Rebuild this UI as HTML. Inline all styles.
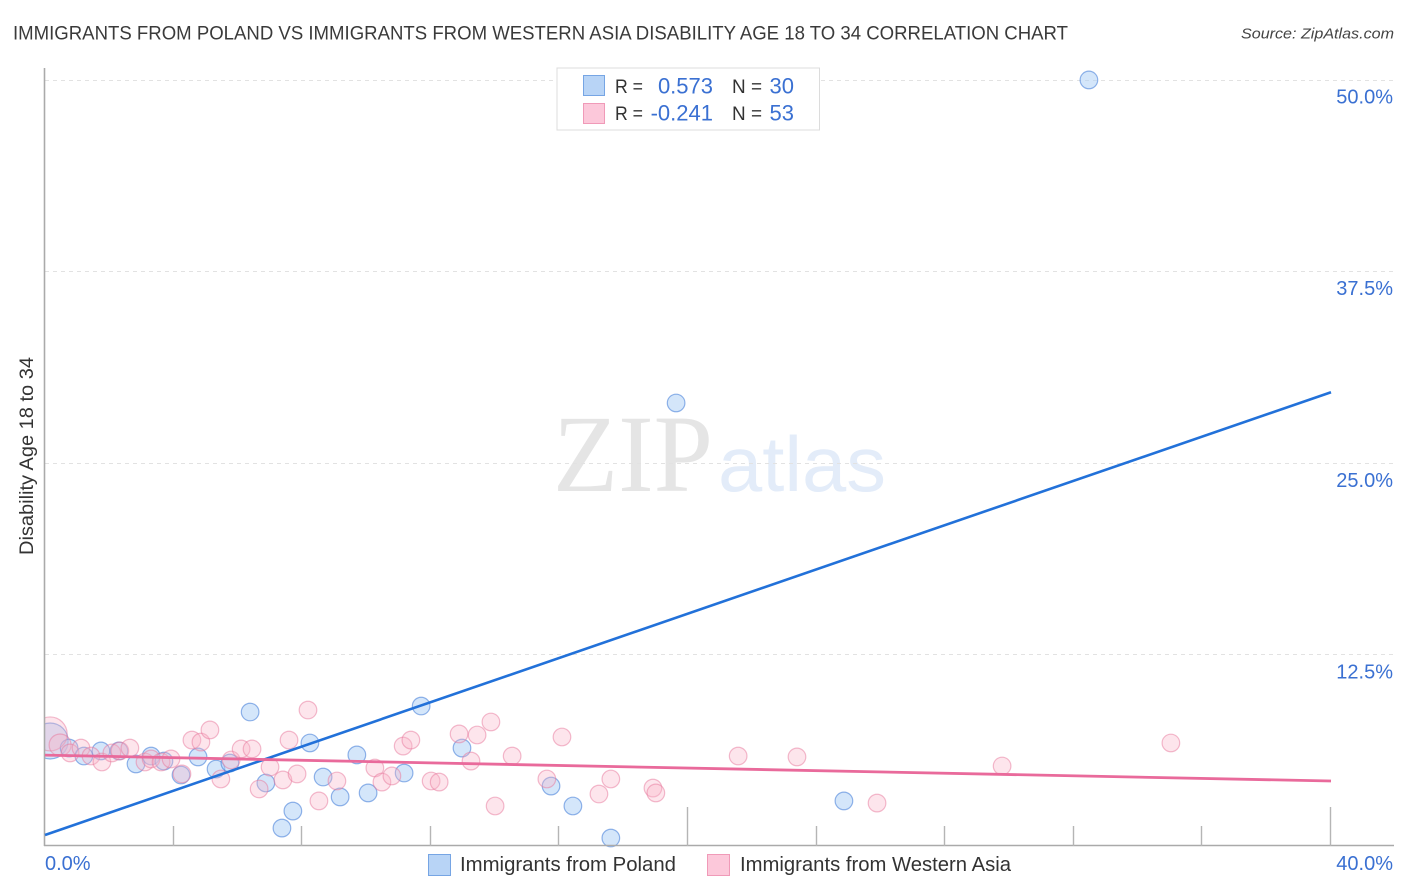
<!DOCTYPE html>
<html lang="en">
<head>
<meta charset="utf-8">
<title>Immigrants from Poland vs Immigrants from Western Asia Disability Age 18 to 34 Correlation Chart</title>
<style>
html,body{margin:0;padding:0;background:#fff;}
svg{display:block;font-family:"Liberation Sans",sans-serif;}
</style>
</head>
<body>
<svg id="chart" width="1406" height="892" viewBox="0 0 1406 892" xmlns="http://www.w3.org/2000/svg">
  <rect width="1406" height="892" fill="#fff"></rect>
  <text x="13" y="39.5" font-size="19.5" fill="#3a3a3a" textLength="1055" lengthAdjust="spacingAndGlyphs">IMMIGRANTS FROM POLAND VS IMMIGRANTS FROM WESTERN ASIA DISABILITY AGE 18 TO 34 CORRELATION CHART</text>
  <text x="1241" y="38.5" font-size="15" font-style="italic" fill="#444" textLength="153" lengthAdjust="spacingAndGlyphs">Source: ZipAtlas.com</text>
  <g>
    <text x="553" y="491" font-family="'Liberation Serif',serif" font-size="110" fill="#e5e5e5" textLength="160" lengthAdjust="spacingAndGlyphs">ZIP</text>
    <text x="718" y="491" font-size="78" fill="#e3ecf9" textLength="168" lengthAdjust="spacingAndGlyphs">atlas</text>
  </g>
  <g id="grid"></g>
  <g id="points"></g>
  <rect x="0" y="60" width="45" height="790" fill="#fff"></rect>
  <g id="axes"></g>
  <g id="trends"></g>
  <text transform="translate(33 456) rotate(-90)" text-anchor="middle" font-size="19" fill="#333" textLength="198" lengthAdjust="spacingAndGlyphs">Disability Age 18 to 34</text>

  <g>
    <rect x="557" y="68" width="262.5" height="62" fill="#fff" stroke="#dcdcdc" stroke-width="1"></rect>
    <rect x="583.5" y="75.5" width="21" height="20" fill="#b8d4f6" stroke="#76a5e4"></rect>
    <rect x="583.5" y="103.5" width="21" height="20" fill="#fcc8da" stroke="#f09ab8"></rect>
    <g font-size="19.5" fill="#333">
      <text x="615" y="93" textLength="28" lengthAdjust="spacingAndGlyphs">R =</text>
      <text x="732" y="93" textLength="30" lengthAdjust="spacingAndGlyphs">N =</text>
      <text x="615" y="120" textLength="28" lengthAdjust="spacingAndGlyphs">R =</text>
      <text x="732" y="120" textLength="30" lengthAdjust="spacingAndGlyphs">N =</text>
    </g>
    <g font-size="22" fill="#3a70d2">
      <text x="713" y="93.5" text-anchor="end">0.573</text>
      <text x="794" y="93.5" text-anchor="end">30</text>
      <text x="713" y="120.5" text-anchor="end">-0.241</text>
      <text x="794" y="120.5" text-anchor="end">53</text>
    </g>
  </g>

  <g>
    <g>
      <rect x="428.5" y="854.5" width="22" height="21" fill="#b8d4f6" stroke="#76a5e4"></rect>
      <text x="460" y="871" font-size="20" fill="#333" textLength="216" lengthAdjust="spacingAndGlyphs">Immigrants from Poland</text>
    </g>
    <g>
      <rect x="707.5" y="854.5" width="22" height="21" fill="#fcc8da" stroke="#f09ab8"></rect>
      <text x="740" y="871" font-size="20" fill="#333" textLength="271" lengthAdjust="spacingAndGlyphs">Immigrants from Western Asia</text>
    </g>
  </g>
</svg>
<script>
const polandX = [0.16,0.75,1.21,1.74,2.30,2.83,3.30,3.70,4.23,4.76,5.32,5.75,6.38,6.87,7.37,7.71,8.24,8.65,9.18,9.70,10.05,11.17,11.70,12.97,15.74,16.42,17.60,19.63,24.85,32.47];
const polandY = [6.85,6.39,5.87,6.20,6.20,5.35,5.87,5.54,4.63,5.81,5.02,5.41,8.74,4.11,1.17,2.28,6.72,4.50,3.20,5.94,3.46,4.76,9.13,6.39,3.91,2.61,0.52,28.90,2.94,49.97];
const westernAsiaX = [0.16,0.47,0.78,1.12,1.43,1.77,2.08,2.33,2.64,3.11,3.30,3.61,3.92,4.26,4.57,4.85,5.13,5.47,5.79,6.10,6.44,6.66,7.00,7.40,7.59,7.84,8.18,8.52,9.08,10.26,10.48,10.79,11.14,11.38,12.01,12.26,12.88,13.44,13.87,13.25,14.00,14.53,15.61,16.08,17.23,17.60,18.91,19.00,21.56,23.39,25.88,29.77,35.02];
const westernAsiaY = [7.31,6.59,6.07,6.39,5.87,5.48,6.07,6.20,6.39,5.48,5.68,5.48,5.68,4.70,6.91,6.78,7.57,4.37,5.61,6.33,6.33,3.72,5.15,4.31,6.91,4.70,8.87,2.94,4.24,5.09,4.17,4.57,6.52,6.91,4.24,4.17,7.31,7.24,8.09,5.54,2.61,5.87,4.37,7.11,3.39,4.37,3.78,3.46,5.87,5.81,2.80,5.22,6.72];
const polandTrendX = [0,40];
const polandTrendY = [0.72,29.6];
const westernAsiaTrendX = [0,40];
const westernAsiaTrendY = [5.93,4.24];
const yTickValues = [50,37.5,25,12.5];
const yTickLabels = ['50.0%','37.5%','25.0%','12.5%'];
const xTickValues = [4,8,12,16,20,24,28,32,36,40];
const xMajorTicks = [20,40];
const xEndValues = [0,40];
const xEndLabels = ['0.0%','40.0%'];

const NS = 'http://www.w3.org/2000/svg';
const xScale = function (v) { return 45 + v * 32.15; };
const yScale = function (v) { return 846 - v * 15.33; };

const gridLayer = document.getElementById('grid');
const axesLayer = document.getElementById('axes');
const pointLayer = document.getElementById('points');
const trendLayer = document.getElementById('trends');

yTickValues.forEach(function (v, i) {
  const y = Math.round(yScale(v)) + 0.5;
  const line = document.createElementNS(NS, 'line');
  
  
  line.setAttribute('x1', 45);
  line.setAttribute('x2', 1393);
  line.setAttribute('y1', y);
  line.setAttribute('y2', y);
  line.setAttribute('stroke', '#e2e2e2');
  line.setAttribute('stroke-dasharray', '4 4');
  gridLayer.appendChild(line);

  const label = document.createElementNS(NS, 'text');
  
  
  label.setAttribute('x', 1393);
  label.setAttribute('y', yScale(v) + 24);
  label.setAttribute('text-anchor', 'end');
  label.setAttribute('font-size', '20');
  label.setAttribute('fill', '#3a70d2');
  label.textContent = yTickLabels[i];
  axesLayer.appendChild(label);
});

const yAxis = document.createElementNS(NS, 'line');


yAxis.setAttribute('x1', 44.5);
yAxis.setAttribute('x2', 44.5);
yAxis.setAttribute('y1', 68);
yAxis.setAttribute('y2', 846);
yAxis.setAttribute('stroke', '#aaa');
yAxis.setAttribute('stroke-width', '1.6');
axesLayer.appendChild(yAxis);

const xAxis = document.createElementNS(NS, 'line');


xAxis.setAttribute('x1', 44);
xAxis.setAttribute('x2', 1394);
xAxis.setAttribute('y1', 845.5);
xAxis.setAttribute('y2', 845.5);
xAxis.setAttribute('stroke', '#aaa');
xAxis.setAttribute('stroke-width', '1.6');
axesLayer.appendChild(xAxis);

xTickValues.forEach(function (v) {
  const x = Math.round(xScale(v)) - 0.5;
  const tick = document.createElementNS(NS, 'line');
  
  
  tick.setAttribute('x1', x);
  tick.setAttribute('x2', x);
  tick.setAttribute('y1', xMajorTicks.indexOf(v) >= 0 ? 807 : 826);
  tick.setAttribute('y2', 846);
  tick.setAttribute('stroke', '#b5b5b5');
  tick.setAttribute('stroke-width', '1.4');
  axesLayer.appendChild(tick);
});

xEndValues.forEach(function (v, i) {
  const label = document.createElementNS(NS, 'text');
  
  
  label.setAttribute('x', i === 0 ? xScale(v) : 1393);
  label.setAttribute('y', 870);
  label.setAttribute('text-anchor', i === 0 ? 'start' : 'end');
  label.setAttribute('font-size', '20');
  label.setAttribute('fill', '#3a70d2');
  label.textContent = xEndLabels[i];
  axesLayer.appendChild(label);
});

polandX.forEach(function (v, i) {
  const dot = document.createElementNS(NS, 'circle');
  
  
  dot.setAttribute('cx', xScale(v));
  dot.setAttribute('cy', yScale(polandY[i]));
  dot.setAttribute('r', i === 0 ? 18 : 8.8);
  dot.setAttribute('fill', 'rgba(170,205,245,0.5)');
  dot.setAttribute('stroke', 'rgba(60,120,215,0.55)');
  dot.setAttribute('stroke-width', '1.2');
  pointLayer.appendChild(dot);
});

westernAsiaX.forEach(function (v, i) {
  const dot = document.createElementNS(NS, 'circle');
  
  
  dot.setAttribute('cx', xScale(v));
  dot.setAttribute('cy', yScale(westernAsiaY[i]));
  dot.setAttribute('r', i === 0 ? 17 : (i === 1 ? 11 : 8.8));
  dot.setAttribute('fill', 'rgba(248,180,200,0.35)');
  dot.setAttribute('stroke', 'rgba(232,120,155,0.5)');
  dot.setAttribute('stroke-width', '1.2');
  pointLayer.appendChild(dot);
});

const polandTrend = document.createElementNS(NS, 'line');


polandTrend.setAttribute('x1', xScale(polandTrendX[0]));
polandTrend.setAttribute('y1', yScale(polandTrendY[0]));
polandTrend.setAttribute('x2', xScale(polandTrendX[1]));
polandTrend.setAttribute('y2', yScale(polandTrendY[1]));
polandTrend.setAttribute('stroke', '#2271d9');
polandTrend.setAttribute('stroke-width', '2.6');
trendLayer.appendChild(polandTrend);

const westernAsiaTrend = document.createElementNS(NS, 'line');


westernAsiaTrend.setAttribute('x1', xScale(westernAsiaTrendX[0]));
westernAsiaTrend.setAttribute('y1', yScale(westernAsiaTrendY[0]));
westernAsiaTrend.setAttribute('x2', xScale(westernAsiaTrendX[1]));
westernAsiaTrend.setAttribute('y2', yScale(westernAsiaTrendY[1]));
westernAsiaTrend.setAttribute('stroke', '#e96a9b');
westernAsiaTrend.setAttribute('stroke-width', '2.8');
trendLayer.appendChild(westernAsiaTrend);
</script>
</body>
</html>
